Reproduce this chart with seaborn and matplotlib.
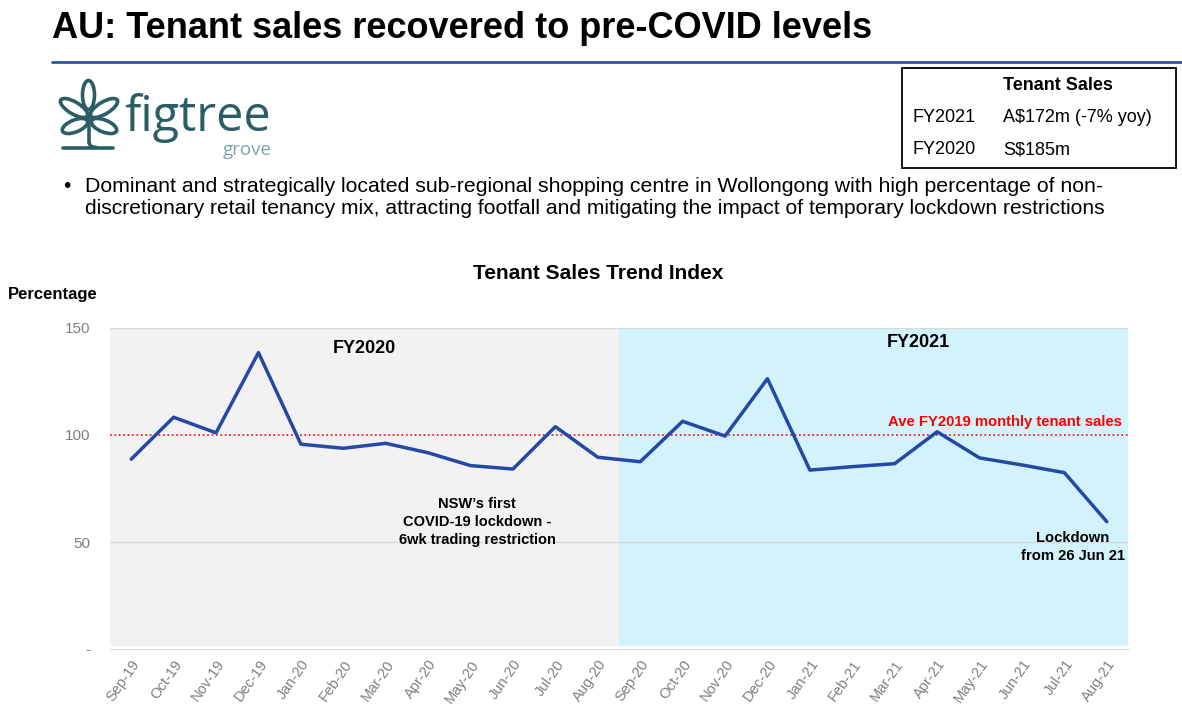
import matplotlib
matplotlib.use("Agg")
import matplotlib.pyplot as plt
from matplotlib.patches import Ellipse, Rectangle, Circle
from matplotlib.lines import Line2D
import pandas as pd
import seaborn as sns

# data
months = ['Sep-19', 'Oct-19', 'Nov-19', 'Dec-19', 'Jan-20', 'Feb-20', 'Mar-20', 'Apr-20',
          'May-20', 'Jun-20', 'Jul-20', 'Aug-20', 'Sep-20', 'Oct-20', 'Nov-20', 'Dec-20',
          'Jan-21', 'Feb-21', 'Mar-21', 'Apr-21', 'May-21', 'Jun-21', 'Jul-21', 'Aug-21']
sales_index = [88.7, 108.3, 101.0, 138.5, 95.7, 93.8, 96.1, 91.7, 85.7, 84.1, 103.9, 89.6,
               87.5, 106.4, 99.5, 126.3, 83.6, 85.2, 86.6, 101.5, 89.3, 86.0, 82.4, 59.5]
fy2020_months = 12
ave_fy2019 = 100
y_ticks = [0, 50, 100, 150]
y_tick_labels = ['-', '50', '100', '150']

table_rows = [('FY2021', 'A$172m (-7% yoy)'), ('FY2020', 'S$185m')]

W, H = 1182, 709
sns.set_style('white')
plt.rcParams['font.family'] = ['Liberation Sans', 'DejaVu Sans']
plt.rcParams['text.color'] = 'black'

fig = plt.figure(figsize=(W / 100, H / 100), dpi=100)


def fx(x):
    return x / W


def fy(y):
    return 1 - y / H


# header
fig.text(fx(52), fy(29), 'AU: Tenant sales recovered to pre-COVID levels',
         fontsize=26, fontweight='bold', va='center', ha='left')
fig.add_artist(Line2D([fx(52), fx(1182)], [fy(62), fy(62)], color='#2e54a4', lw=2))

# logo
teal = '#2b5d66'
lax = fig.add_axes([fx(55), fy(158), fx(120) - fx(55), fy(78) - fy(158)])
lax.set_xlim(55, 120)
lax.set_ylim(158, 78)
lax.axis('off')
for cx, cy, w, h, ang in [(88.5, 95, 12, 29, 0), (74, 108, 31, 12, 31), (104, 108, 31, 12, -31),
                          (75, 126, 27, 12, -22), (104, 126, 27, 12, 22)]:
    lax.add_patch(Ellipse((cx, cy), w, h, angle=ang, fill=False, ec=teal, lw=2.6))
lax.add_patch(Circle((89, 116), 2.2, color=teal))
lax.plot([89, 89, 91, 96], [117, 143, 146.5, 147.5], color=teal, lw=2.6)
lax.plot([63, 113], [147.5, 147.5], color=teal, lw=2.6)
fig.text(fx(124), fy(131), 'figtree', fontsize=35, color=teal, family='Open Sans',
         va='baseline', ha='left')
fig.text(fx(272), fy(155), 'grove', fontsize=13.5, color='#7fa3a8', family='Open Sans',
         va='baseline', ha='right')

# summary table
fig.add_artist(Rectangle((fx(902), fy(168)), fx(1176) - fx(902), fy(68) - fy(168),
                         fill=False, ec='black', lw=1.3, transform=fig.transFigure))
fig.text(fx(1058), fy(86), 'Tenant Sales', fontsize=13, fontweight='bold', ha='center', va='center')
for i, (yr, val) in enumerate(table_rows):
    fig.text(fx(912), fy(117 + 33 * i), yr, fontsize=13, ha='left', va='center')
    fig.text(fx(1003), fy(117 + 33 * i), val, fontsize=13, ha='left', va='center')

# bullet
fig.text(fx(63), fy(186), '•', fontsize=15, ha='left', va='center')
fig.text(fx(85), fy(186), 'Dominant and strategically located sub-regional shopping centre in Wollongong with high percentage of non-',
         fontsize=15.3, ha='left', va='center')
fig.text(fx(85), fy(209), 'discretionary retail tenancy mix, attracting footfall and mitigating the impact of temporary lockdown restrictions',
         fontsize=15.1, ha='left', va='center')

# chart
fig.text(fx(598), fy(273), 'Tenant Sales Trend Index', fontsize=15, fontweight='bold', ha='center', va='center')
fig.text(fx(8), fy(295), 'Percentage', fontsize=12, fontweight='bold', ha='left', va='center')

ax = fig.add_axes([fx(110), fy(649), fx(1128) - fx(110), fy(328) - fy(649)])
df = pd.DataFrame({'idx': range(len(months)), 'value': sales_index})
n = len(months)
ax.axvspan(-0.5, fy2020_months - 0.5, ymin=0.01, ymax=1, color='#f2f2f2', lw=0, zorder=0)
ax.axvspan(fy2020_months - 0.5, n - 0.5, ymin=0.01, ymax=1, color='#d2f3fb', lw=0, zorder=0)
for v in (50, 150):
    ax.axhline(v, color='#d9d9d9', lw=1, zorder=1)
ax.axhline(ave_fy2019, color='#ff0000', ls=':', lw=1.2, zorder=2)
sns.lineplot(data=df, x='idx', y='value', color='#2448a6', lw=2.5, ax=ax, zorder=3)

ax.set_xlim(-0.5, n - 0.5)
ax.set_ylim(0, 150)
ax.set_xticks(range(n))
ax.set_xticklabels(months, rotation=55, ha='right', rotation_mode='anchor', color='#7f7f7f', fontsize=10.5)
ax.set_xticks([i - 0.5 for i in range(n + 1)], minor=True)
ax.tick_params(axis='x', which='major', length=0, pad=6)
ax.tick_params(axis='x', which='minor', length=6, color='#d9d9d9', direction='out', width=1)
ax.set_yticks(y_ticks)
ax.set_yticklabels(y_tick_labels)
ax.tick_params(axis='y', length=0, labelsize=11, labelcolor='#7f7f7f', pad=14)
for s in ('top', 'right', 'left'):
    ax.spines[s].set_visible(False)
ax.spines['bottom'].set_color('#d9d9d9')
ax.set_xlabel('')
ax.set_ylabel('')

ax.text(5.5, 140.6, 'FY2020', fontsize=13, fontweight='bold', ha='center', va='center')
ax.text(18.56, 143, 'FY2021', fontsize=13, fontweight='bold', ha='center', va='center')
ax.text(23.36, 106.0, 'Ave FY2019 monthly tenant sales', fontsize=10.7, fontweight='bold',
        color='#ff0000', ha='right', va='center')
ax.text(8.16, 59.3, 'NSW\u2019s first\nCOVID-19 lockdown -\n6wk trading restriction', fontsize=10.5,
        fontweight='bold', ha='center', va='center', linespacing=1.4)
ax.text(22.2, 47.7, 'Lockdown\nfrom 26 Jun 21', fontsize=10.6, fontweight='bold',
        ha='center', va='center', linespacing=1.4)

fig.savefig('out.png', dpi=100)
